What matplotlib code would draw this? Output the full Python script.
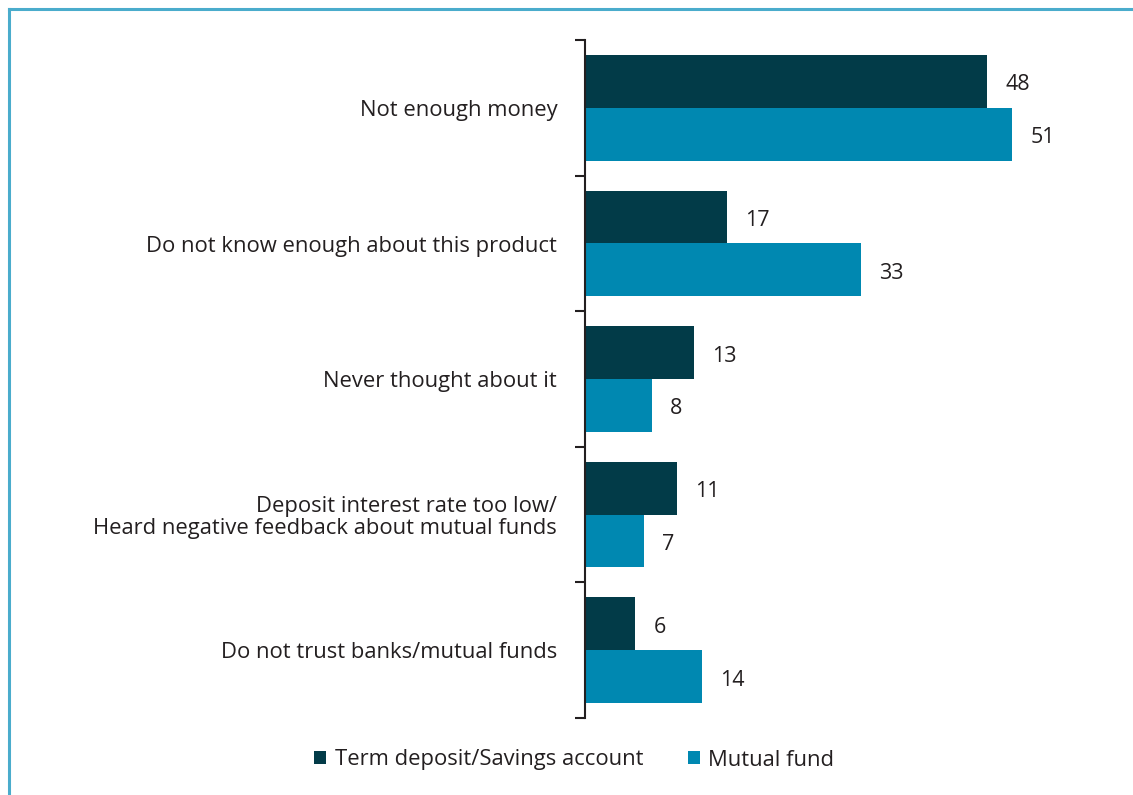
import matplotlib.pyplot as plt
from matplotlib.lines import Line2D
import numpy as np

# data
categories = ['Not enough money',
              'Do not know enough about this product',
              'Never thought about it',
              'Deposit interest rate too low/\nHeard negative feedback about mutual funds',
              'Do not trust banks/mutual funds']
term_deposit = [48, 17, 13, 11, 6]
mutual_fund = [51, 33, 8, 7, 14]
series_names = ['Term deposit/Savings account', 'Mutual fund']

dark = '#023b48'
light = '#0088b1'
text_col = '#231f20'

plt.rcParams['font.family'] = ['Open Sans', 'DejaVu Sans']

fig = plt.figure(figsize=(11.33, 7.95), dpi=100)
ax = fig.add_axes([585/1133, 1-718/795, (1110-585)/1133, (718-40)/795])

y = np.arange(len(categories)) + 0.5
h = 0.39
b1 = ax.barh(y - h/2, term_deposit, height=h, color=dark, label=series_names[0])
b2 = ax.barh(y + h/2, mutual_fund, height=h, color=light, label=series_names[1])

# value labels to the right of each bar
for bars in (b1, b2):
    for r in bars:
        ax.annotate(str(int(r.get_width())), (r.get_width(), r.get_y() + r.get_height()/2),
                    xytext=(13, -2.5), textcoords='offset points', ha='left', va='center',
                    fontsize=15.5, color=text_col)

ax.set_ylim(len(categories), 0)
ax.set_xlim(0, (1110-585)/8.375)
ax.set_yticks(np.arange(len(categories) + 1))
ax.set_yticklabels([])
ax.tick_params(axis='y', length=7, width=1.5, color=text_col, direction='out')
ax.set_xticks([])
for s in ['top', 'right', 'bottom']:
    ax.spines[s].set_visible(False)
ax.spines['left'].set_color(text_col)
ax.spines['left'].set_linewidth(1.5)

# category labels
for yy, lab in zip(y, categories):
    ax.annotate(lab, (0, yy), xytext=(-20, -2), textcoords='offset points',
                ha='right', va='center', fontsize=15.8, color=text_col, linespacing=1.05)

fig.legend(handles=[b1, b2], loc='center', bbox_to_anchor=(0.507, 1-760/795), ncol=2,
           frameon=False, fontsize=15.8, handlelength=0.55, handleheight=0.55,
           columnspacing=2.0, handletextpad=0.4, labelcolor=text_col)

# light blue frame on the left and top
fig.add_artist(Line2D([9/1133, 9/1133], [0, 1-9/795], color='#4aaccc', lw=2.2,
                      transform=fig.transFigure))
fig.add_artist(Line2D([9/1133, 1], [1-9/795, 1-9/795], color='#4aaccc', lw=2.2,
                      transform=fig.transFigure))

fig.savefig('out.png', dpi=100)
